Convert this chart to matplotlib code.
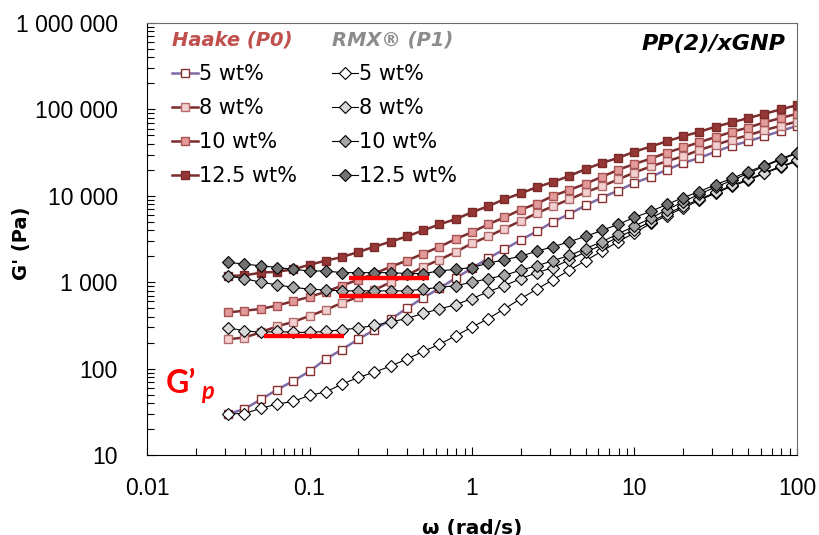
import matplotlib
matplotlib.use("Agg")
import matplotlib.pyplot as plt
from matplotlib.ticker import FuncFormatter, LogLocator, NullFormatter

# -------------------------------
# data
# -------------------------------
omega = [0.0316, 0.0398, 0.0501, 0.0631, 0.0794, 0.1, 0.126, 0.158, 0.2, 0.251,
         0.316, 0.398, 0.501, 0.631, 0.794, 1.0, 1.26, 1.58, 2.0, 2.51,
         3.16, 3.98, 5.01, 6.31, 7.94, 10.0, 12.6, 15.8, 20.0, 25.1,
         31.6, 39.8, 50.1, 63.1, 79.4, 100.0]

# Haake (P0)
haake_5 = [30, 34, 44, 57, 72, 93, 129, 166, 219, 282, 372, 501, 661, 851, 1120, 1450,
           1900, 2400, 3090, 3890, 5010, 6170, 7760, 9550, 11500, 14100, 16600, 20000,
           24000, 27500, 32400, 38000, 42700, 49000, 56200, 64600]
haake_8 = [219, 229, 263, 309, 347, 407, 479, 575, 676, 813, 1000, 1200, 1510, 1820,
           2240, 2820, 3390, 4170, 5130, 6310, 7590, 9120, 11000, 12900, 15500, 18600,
           21900, 25100, 28800, 33900, 38900, 44700, 50100, 57500, 64600, 72400]
haake_10 = [447, 468, 490, 537, 603, 676, 776, 912, 1070, 1260, 1510, 1780, 2140, 2570,
            3160, 3800, 4680, 5620, 6920, 8130, 10000, 11700, 13800, 16600, 20000, 23400,
            26900, 31600, 36300, 41700, 47900, 55000, 61700, 70800, 79400, 89100]
haake_125 = [1180, 1200, 1290, 1320, 1410, 1590, 1780, 1950, 2240, 2570, 2950, 3390,
             3980, 4680, 5370, 6460, 7590, 9120, 10700, 12600, 14500, 17000, 20400, 24000,
             27500, 32400, 37200, 42700, 49000, 55000, 63100, 70800, 79400, 89100, 100000,
             112000]

# RMX (P1)
rmx_5 = [30, 30.2, 34.7, 38.9, 41.7, 49, 53.7, 66, 79, 91, 107, 129, 158, 191, 240, 302,
         380, 490, 646, 832, 1070, 1380, 1780, 2290, 2950, 3720, 4790, 5890, 7240, 8910,
         10700, 12900, 15100, 18200, 21400, 25100]
rmx_8 = [295, 275, 263, 269, 263, 263, 269, 282, 295, 316, 347, 380, 437, 490, 550, 646,
         776, 912, 1100, 1290, 1480, 1820, 2240, 2690, 3310, 4070, 5010, 6170, 7590, 9120,
         11000, 13200, 15500, 18600, 21900, 25700]
rmx_10 = [1180, 1100, 1000, 933, 871, 832, 813, 794, 794, 794, 794, 794, 832, 871, 912,
          1000, 1100, 1200, 1380, 1550, 1780, 2040, 2450, 2950, 3630, 4470, 5500, 6920,
          8510, 10500, 12600, 15100, 18200, 21900, 26300, 30900]
rmx_125 = [1700, 1620, 1550, 1480, 1410, 1350, 1350, 1290, 1290, 1290, 1290, 1260, 1260,
           1350, 1410, 1480, 1660, 1820, 2000, 2290, 2570, 2950, 3390, 3980, 4680, 5620,
           6610, 7940, 9550, 11200, 13500, 15900, 19100, 22400, 26900, 31600]

labels = ["5 wt%", "8 wt%", "10 wt%", "12.5 wt%"]

# G'p plateau marks (start, end, level)
gp_start = [0.0525, 0.152, 0.175]
gp_end = [0.163, 0.472, 0.543]
gp_level = [238, 698, 1110]

# -------------------------------
# styles
# -------------------------------
h_face = ["white", "#f2d0d0", "#e29a9a", "#953735"]
h_edge = ["#8b2e2e", "#b46a6a", "#a85252", "#7b2a2a"]
h_line = ["#7f6aa6", "#7b2c2c", "#7b2c2c", "#7b2c2c"]
r_face = ["white", "#d9d9d9", "#a6a6a6", "#737373"]

plt.rcParams["font.family"] = ["DejaVu Sans"]

fig = plt.figure(figsize=(8.19, 5.35), dpi=100)
ax = fig.add_axes([0.1795, 0.1495, 0.7936, 0.8075])

h_handles = []
for ys, fc, ec, lc in zip([haake_5, haake_8, haake_10, haake_125], h_face, h_edge, h_line):
    ln, = ax.plot(omega, ys, color=lc, lw=1.8, marker="s", ms=6, mfc=fc, mec=ec, mew=1.0,
                  zorder=2)
    h_handles.append(ln)

r_handles = []
for ys, fc in zip([rmx_5, rmx_8, rmx_10, rmx_125], r_face):
    ln, = ax.plot(omega, ys, color="black", lw=0.8, marker="D", ms=6, mfc=fc, mec="black",
                  mew=0.8, zorder=3)
    r_handles.append(ln)

ax.hlines(gp_level, gp_start, gp_end, colors="#ff0000", lw=3.2, zorder=5)

ax.set_xscale("log")
ax.set_yscale("log")
ax.set_xlim(0.01, 100)
ax.set_ylim(10, 1e6)

ax.xaxis.set_major_formatter(FuncFormatter(lambda v, p: f"{v:g}"))
ax.yaxis.set_major_formatter(FuncFormatter(lambda v, p: f"{v:,.0f}".replace(",", " ")))
ax.xaxis.set_minor_locator(LogLocator(base=10, subs=range(2, 10)))
ax.yaxis.set_minor_locator(LogLocator(base=10, subs=range(2, 10)))
ax.xaxis.set_minor_formatter(NullFormatter())
ax.yaxis.set_minor_formatter(NullFormatter())
ax.tick_params(which="both", direction="in", top=False, right=False, width=0.8)
ax.tick_params(which="major", length=6, labelsize=16.5)
ax.tick_params(which="minor", length=5)
ax.tick_params(axis="x", which="major", pad=16)
ax.tick_params(axis="y", which="major", pad=21)
for lab in ax.get_xticklabels() + ax.get_yticklabels():
    lab.set_family(["Liberation Sans", "DejaVu Sans"])
for s in ["left", "bottom"]:
    ax.spines[s].set_color("black")
for s in ["top", "right"]:
    ax.spines[s].set_color("#6b6b6b")

ax.set_xlabel("ω (rad/s)", fontsize=14.5, fontweight="bold")
ax.set_ylabel("G' (Pa)", fontsize=14, fontweight="bold")
ax.xaxis.set_label_coords(0.5, -0.147)
ax.yaxis.set_label_coords(-0.178, 0.49)

# legends
leg_kw = dict(loc="upper left", frameon=False, fontsize=15, handlelength=1.25,
              handletextpad=0.05, labelspacing=0.67, borderpad=0, borderaxespad=0,
              alignment="left",
              title_fontproperties={"weight": "bold", "style": "italic", "size": 14})
leg1 = fig.legend(handles=h_handles, labels=labels, title="Haake (P0)",
                  bbox_to_anchor=(172 / 819, 1 - 31 / 535), **leg_kw)
leg1.get_title().set_color("#c0504d")
leg2 = fig.legend(handles=r_handles, labels=labels, title="RMX® (P1)",
                  bbox_to_anchor=(332 / 819, 1 - 31 / 535), **leg_kw)
leg2.get_title().set_color("#8c8c8c")

fig.text(785 / 819, 1 - 50 / 535, "PP(2)/xGNP", fontsize=16, fontweight="bold",
         fontstyle="italic", ha="right", va="baseline")

fig.text(166 / 819, 1 - 393 / 535, "G’", color="#ff0000", fontsize=23, fontweight="bold",
         family=["Lato", "DejaVu Sans"], ha="left", va="baseline")
fig.text(201 / 819, 1 - 399 / 535, "p", color="#ff0000", fontsize=17, fontweight="bold",
         fontstyle="italic", family=["Lato", "DejaVu Sans"], ha="left", va="baseline")

fig.savefig("out.png", dpi=100)
